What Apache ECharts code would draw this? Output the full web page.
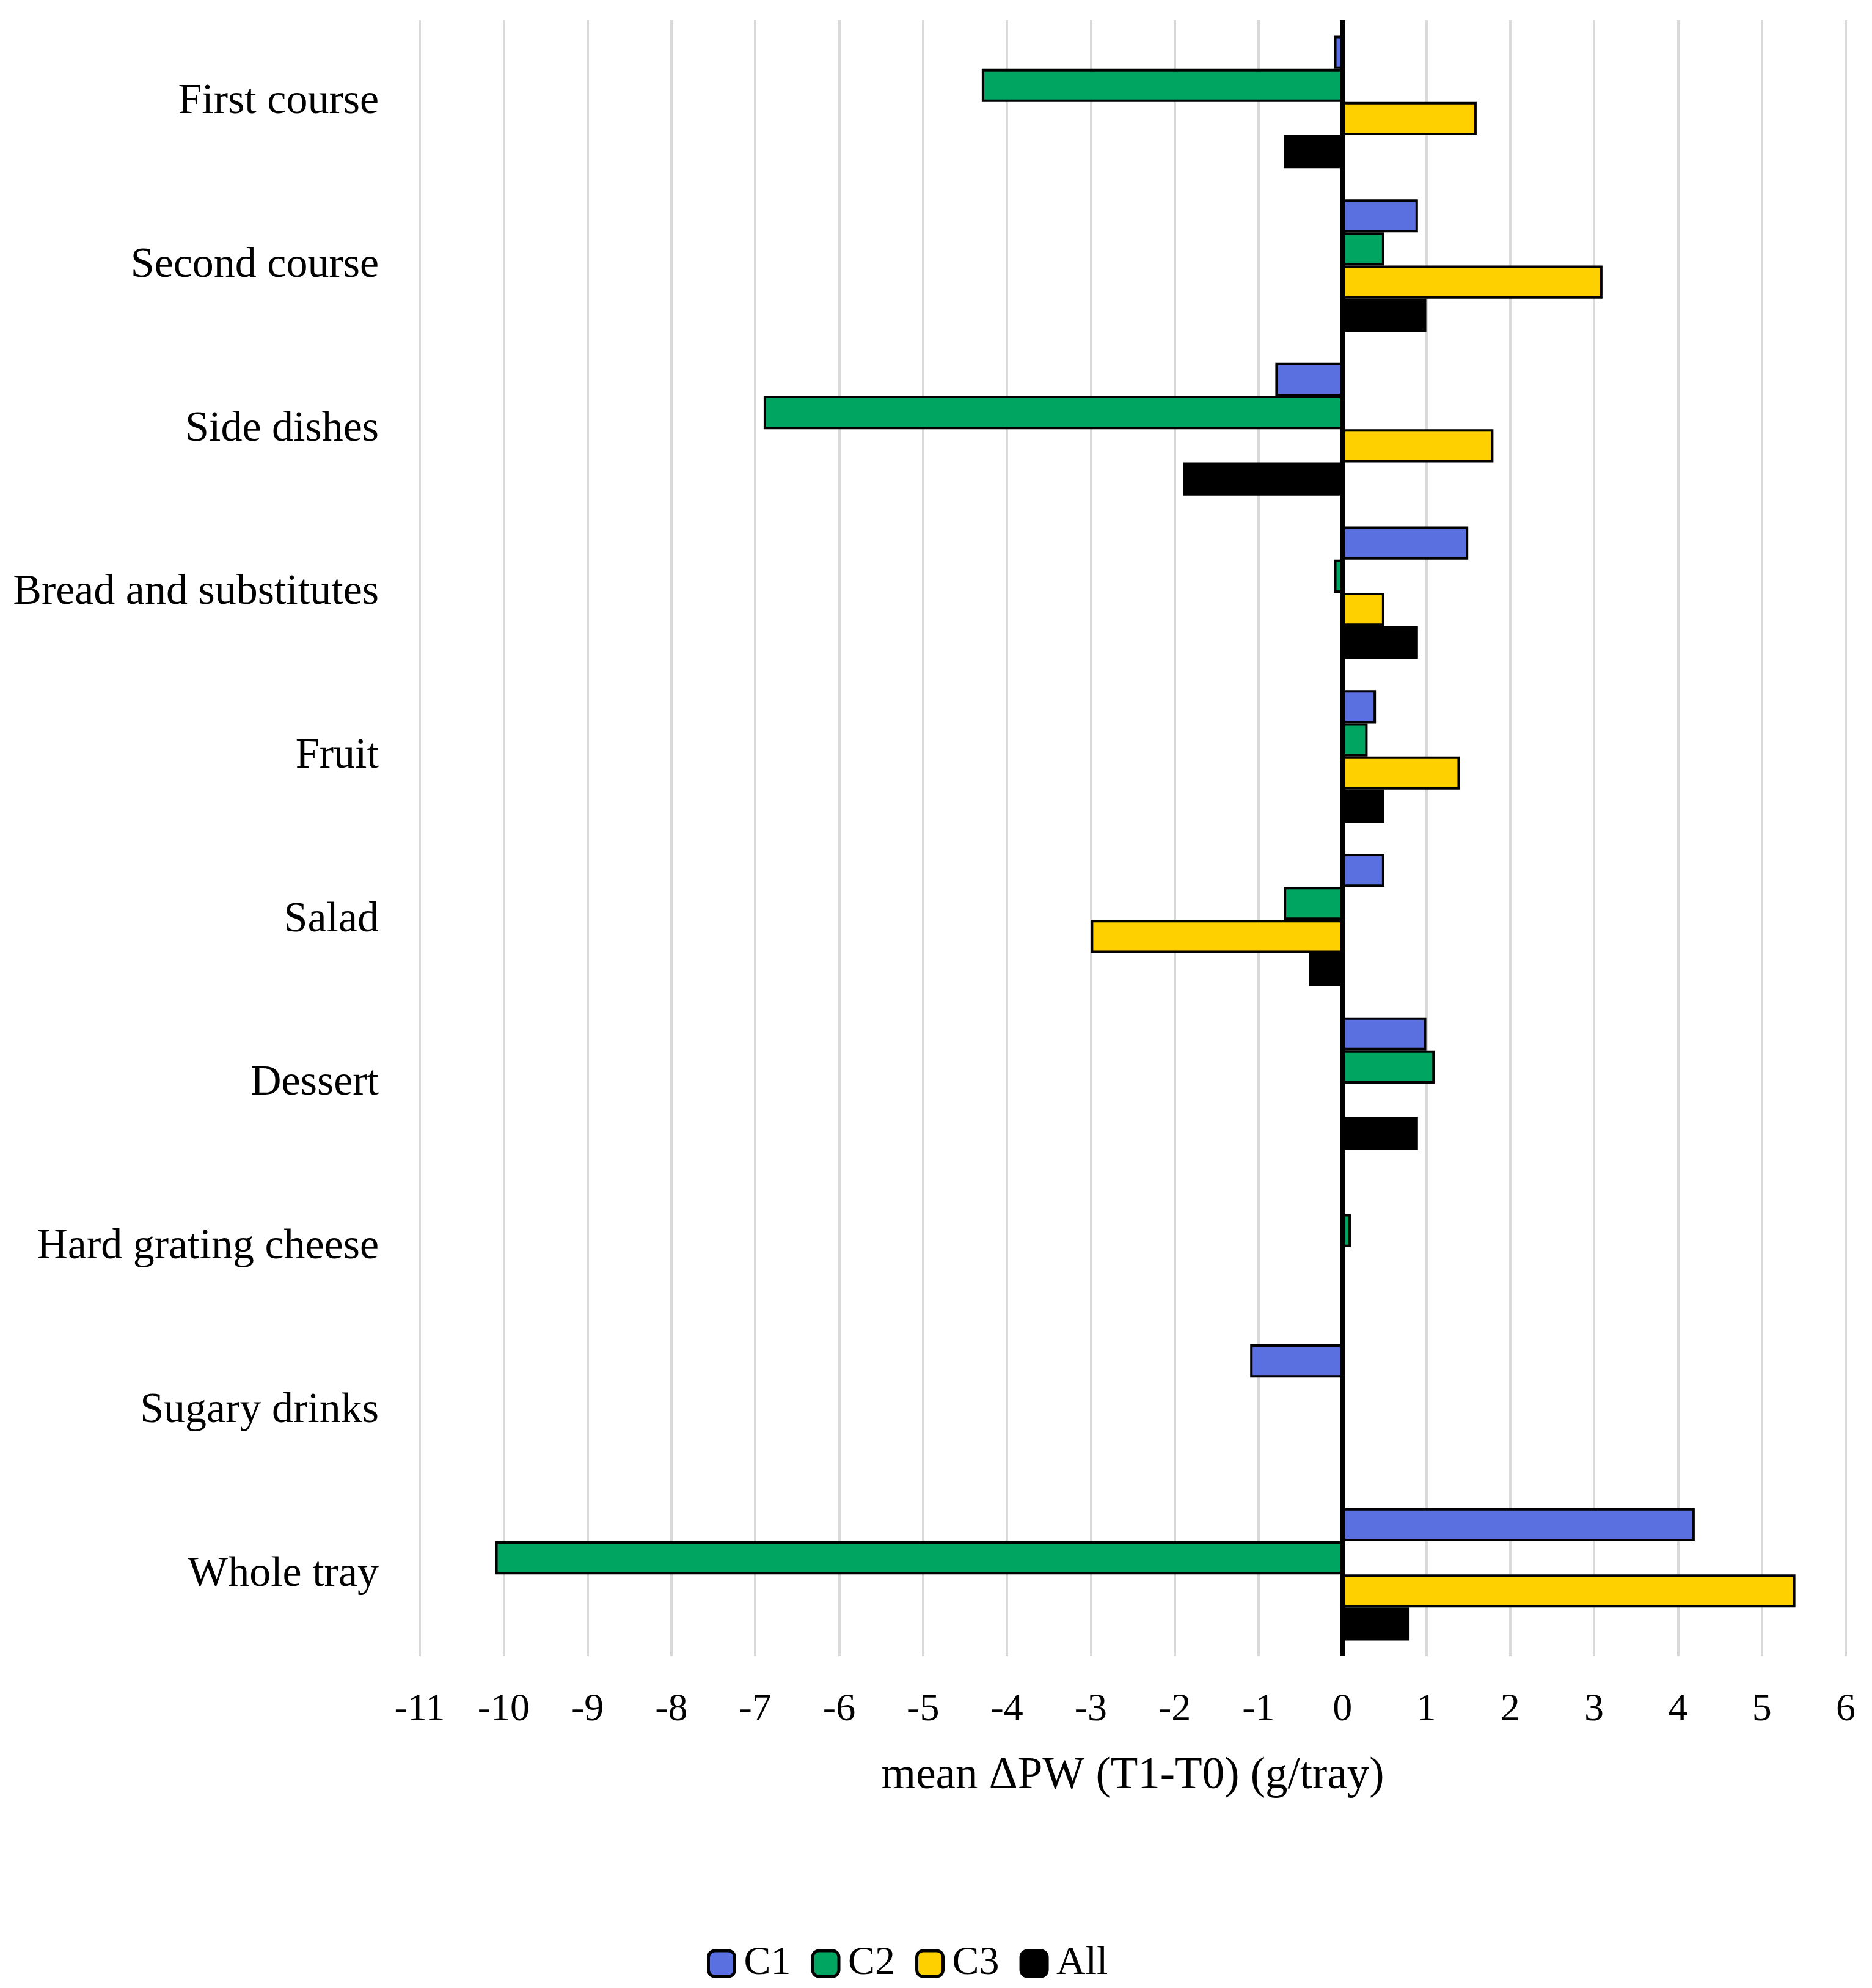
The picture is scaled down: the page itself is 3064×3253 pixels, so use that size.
<!DOCTYPE html>
<html>
<head>
<meta charset="utf-8">
<script src="https://cdn.jsdelivr.net/npm/echarts@6/dist/echarts.min.js"></script>
<style>
  html, body { margin: 0; padding: 0; background: #fff; }
  #chart { width: 3064px; height: 3253px; }
</style>
</head>
<body>
<div id="chart"></div>
<script>
const categories = ['First course', 'Second course', 'Side dishes', 'Bread and substitutes', 'Fruit',
  'Salad', 'Dessert', 'Hard grating cheese', 'Sugary drinks', 'Whole tray'];
const c1 = [-0.1, 0.9, -0.8, 1.5, 0.4, 0.5, 1.0, 0, -1.1, 4.2];
const c2 = [-4.3, 0.5, -6.9, -0.1, 0.3, -0.7, 1.1, 0.1, 0, -10.1];
const c3 = [1.6, 3.1, 1.8, 0.5, 1.4, -3.0, 0, 0, 0, 5.4];
const all = [-0.7, 1.0, -1.9, 0.9, 0.5, -0.4, 0.9, 0, 0, 0.8];
const seriesNames = ['C1', 'C2', 'C3', 'All'];
const seriesColors = ['#5a70e0', '#00a562', '#ffd000', '#000000'];
const seriesData = [c1, c2, c3, all];

const font = 'Liberation Serif';
const chart = echarts.init(document.getElementById('chart'));

const seriesList = seriesNames.map(function (name, i) {
  const s = {
    name: name,
    type: 'bar',
    data: seriesData[i],
    barGap: '0%',
    barCategoryGap: '19%',
    itemStyle: { color: seriesColors[i], borderColor: '#000', borderWidth: 4 },
    animation: false
  };
  if (i === 0) {
    // zero line
    s.markLine = {
      silent: true,
      symbol: 'none',
      label: { show: false },
      lineStyle: { color: '#000', width: 9, type: 'solid' },
      data: [{ xAxis: 0 }],
      z: 10
    };
  }
  return s;
});

const option = {
  backgroundColor: '#fff',
  textStyle: { fontFamily: font },
  grid: { left: 687, right: 43, top: 33, bottom: 543, containLabel: false },
  legend: {
    data: seriesNames,
    left: 1152,
    top: 3175,
    itemWidth: 43,
    itemHeight: 42,
    itemGap: 33,
    itemStyle: { borderWidth: 5, borderColor: '#000' },
    textStyle: { fontFamily: font, fontSize: 66, color: '#000', padding: [0, 0, 0, 10] }
  },
  xAxis: {
    type: 'value',
    min: -11,
    max: 6,
    interval: 1,
    name: 'mean ΔPW (T1-T0) (g/tray)',
    nameLocation: 'middle',
    nameGap: 160,
    nameTextStyle: { fontFamily: font, fontSize: 73, color: '#000' },
    axisLine: { show: false },
    axisTick: { show: false },
    axisLabel: { fontFamily: font, fontSize: 64, color: '#000', margin: 56 },
    splitLine: { show: true, lineStyle: { color: '#d9d9d9', width: 4 } }
  },
  yAxis: {
    type: 'category',
    inverse: true,
    data: categories,
    axisLine: { show: false },
    axisTick: { show: false },
    axisLabel: { fontFamily: font, fontSize: 70, color: '#000', margin: 67 }
  },
  series: seriesList
};
chart.setOption(option);
</script>
</body>
</html>
